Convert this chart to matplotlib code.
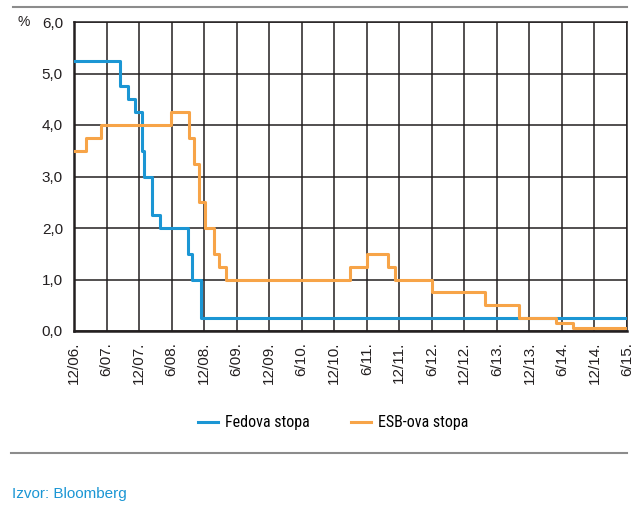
import matplotlib.pyplot as plt
from matplotlib import font_manager
from matplotlib.lines import Line2D

# months counted from December 2006
tick_labels = ['12/06.', '6/07.', '12/07.', '6/08.', '12/08.', '6/09.', '12/09.', '6/10.',
               '12/10.', '6/11.', '12/11.', '6/12.', '12/12.', '6/13.', '12/13.', '6/14.',
               '12/14.', '6/15.']

# Fed funds target rate, change points (month, rate)
fed_months = [0, 8.5, 10.0, 11.3, 12.6, 12.9, 14.4, 15.9, 21.1, 21.8, 23.4, 102]
fed_rates = [5.25, 4.75, 4.50, 4.25, 3.50, 3.00, 2.25, 2.00, 1.50, 1.00, 0.25, 0.25]

# ECB main refinancing rate, change points (month, rate)
ecb_months = [0, 2.2, 5.0, 17.9, 21.2, 22.2, 23.0, 24.2, 25.8, 26.7, 28.0,
              50.9, 54.0, 57.9, 59.2, 66.0, 75.8, 82.1, 88.9, 92.0, 102]
ecb_rates = [3.50, 3.75, 4.00, 4.25, 3.75, 3.25, 2.50, 2.00, 1.50, 1.25, 1.00,
             1.25, 1.50, 1.25, 1.00, 0.75, 0.50, 0.25, 0.15, 0.05, 0.05]

blue = '#1b96d4'
orange = '#f7a448'
ink = '#231f20'

names = {f.name for f in font_manager.fontManager.ttflist}
base_font = 'Liberation Sans' if 'Liberation Sans' in names else 'DejaVu Sans'
narrow_font = base_font
legend_size = 9.6
for cand in ['Liberation Sans Narrow', 'DejaVu Sans Condensed', 'Roboto Condensed']:
    if cand in names:
        narrow_font = cand
        legend_size = 11.5
        break
plt.rcParams['font.family'] = base_font

fig = plt.figure(figsize=(6.39, 5.05), dpi=100)
ax = fig.add_axes([74 / 639, 1 - 331 / 505, 553 / 639, 309 / 505])

ax.step(fed_months, fed_rates, where='post', color=blue, lw=2.2, zorder=3)
ax.step(ecb_months, ecb_rates, where='post', color=orange, lw=2.2, zorder=3)

ax.set_xlim(0, 102)
ax.set_ylim(0, 6)
ax.set_xticks(range(0, 103, 6))
ax.set_xticklabels(tick_labels, rotation=90, fontsize=11, color=ink)
ax.set_yticks([0, 1, 2, 3, 4, 5, 6])
ax.set_yticklabels(['0,0', '1,0', '2,0', '3,0', '4,0', '5,0', '6,0'], fontsize=11,
                   color=ink)
ax.tick_params(length=0)
ax.tick_params(axis='y', pad=8)
ax.tick_params(axis='x', pad=8)
ax.grid(True, color=ink, lw=1.1)
ax.set_axisbelow(True)
for side in ['top', 'right']:
    ax.spines[side].set_color(ink)
    ax.spines[side].set_linewidth(1.1)
for side in ['left', 'bottom']:
    ax.spines[side].set_color(ink)
    ax.spines[side].set_linewidth(1.8)

fig.text(17 / 639, 1 - 22 / 505, '%', fontsize=10, color=ink, va='center')

# legend below the rotated labels
fs_px = legend_size * 100 / 72
handles = [Line2D([], [], color=blue, lw=2.2), Line2D([], [], color=orange, lw=2.2)]
fig.legend(handles, ['Fedova stopa', 'ESB-ova stopa'], loc='center left',
           bbox_to_anchor=(198 / 639, 1 - 423 / 505), ncol=2, frameon=False,
           borderpad=0, borderaxespad=0, handlelength=20 / fs_px,
           handletextpad=7 / fs_px, columnspacing=41 / fs_px,
           prop={'family': narrow_font, 'size': legend_size})

# thin rules above and below
fig.add_artist(Line2D([13 / 639, 627 / 639], [1 - 7 / 505] * 2, color='#8c8c8c', lw=1.5))
fig.add_artist(Line2D([11 / 639, 627 / 639], [1 - 453 / 505] * 2, color='#8c8c8c', lw=1.5))

fig.text(12 / 639, 1 - 494 / 505, 'Izvor: Bloomberg', fontsize=11, color=blue,
         va='center')

fig.savefig('out.png', dpi=100)
